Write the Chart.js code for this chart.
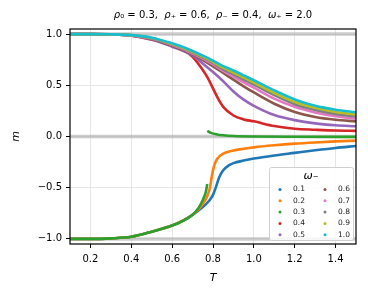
<!DOCTYPE html>
<html>
<head>
<meta charset="utf-8">
<script src="https://cdn.jsdelivr.net/npm/chart.js@4/dist/chart.umd.min.js"></script>
<style>
  html, body { margin: 0; padding: 0; background: #fff; }
</style>
</head>
<body>
<canvas id="phaseChart" width="368" height="297"></canvas>
<script>
// omega_minus values and matplotlib tab10 colours
const omegaLabels = ['0.1', '0.2', '0.3', '0.4', '0.5', '0.6', '0.7', '0.8', '0.9', '1.0'];
const colors = ['#1f77b4', '#ff7f0e', '#2ca02c', '#d62728', '#9467bd',
                '#8c564b', '#e377c2', '#7f7f7f', '#bcbd22', '#17becf'];

// upper branch (m -> +1 at low T)
const tUpper = [0.1, 0.2, 0.3, 0.4, 0.5, 0.6, 0.65, 0.7, 0.75, 0.8, 0.85, 0.9, 0.95, 1.0, 1.1, 1.2, 1.3, 1.4, 1.5];
const m05 = [1, 1, 0.997, 0.986, 0.948, 0.877, 0.84, 0.792, 0.712, 0.63, 0.54, 0.44, 0.36, 0.30, 0.21, 0.16, 0.128, 0.11, 0.10];
const m06 = [1, 1, 0.997, 0.987, 0.953, 0.886, 0.846, 0.80, 0.745, 0.685, 0.62, 0.555, 0.49, 0.43, 0.32, 0.24, 0.19, 0.163, 0.148];
const m07 = [1, 1, 0.998, 0.988, 0.957, 0.894, 0.856, 0.81, 0.76, 0.705, 0.64, 0.585, 0.53, 0.477, 0.37, 0.29, 0.235, 0.197, 0.173];
const m08 = [1, 1, 0.998, 0.989, 0.96, 0.90, 0.863, 0.82, 0.77, 0.718, 0.656, 0.607, 0.557, 0.508, 0.405, 0.315, 0.26, 0.22, 0.196];
const m09 = [1, 1, 0.998, 0.99, 0.963, 0.905, 0.869, 0.827, 0.78, 0.73, 0.672, 0.625, 0.576, 0.527, 0.425, 0.337, 0.28, 0.24, 0.215];
const m10 = [1, 1, 0.998, 0.99, 0.965, 0.91, 0.876, 0.835, 0.79, 0.74, 0.688, 0.645, 0.597, 0.549, 0.45, 0.362, 0.30, 0.262, 0.237];

const tRed = [0.1, 0.2, 0.3, 0.4, 0.5, 0.6, 0.65, 0.7, 0.75, 0.775, 0.8, 0.825, 0.85, 0.9, 0.95, 1.0, 1.1, 1.2, 1.3, 1.4, 1.5];
const m04 = [1, 1, 0.997, 0.985, 0.946, 0.896, 0.853, 0.778, 0.65, 0.57, 0.47, 0.37, 0.29, 0.205, 0.167, 0.148, 0.102, 0.076, 0.066, 0.058, 0.055];

// lower branch (m -> -1 at low T)
const tBlue = [0.1, 0.2, 0.3, 0.4, 0.5, 0.6, 0.65, 0.7, 0.75, 0.78, 0.8, 0.815, 0.83, 0.85, 0.875, 0.9, 0.95, 1.0, 1.1, 1.2, 1.3, 1.4, 1.5];
const m01 = [-1, -1, -0.995, -0.98, -0.93, -0.87, -0.825, -0.765, -0.69, -0.63, -0.57, -0.49, -0.40, -0.33, -0.285, -0.26, -0.235, -0.215, -0.185, -0.16, -0.135, -0.112, -0.093];
const tOrange = [0.1, 0.2, 0.3, 0.4, 0.5, 0.6, 0.65, 0.7, 0.73, 0.75, 0.77, 0.785, 0.795, 0.805, 0.82, 0.85, 0.9, 0.95, 1.0, 1.1, 1.2, 1.3, 1.4, 1.5];
const m02 = [-1, -1, -0.995, -0.98, -0.93, -0.87, -0.825, -0.765, -0.71, -0.66, -0.59, -0.50, -0.38, -0.29, -0.22, -0.168, -0.137, -0.12, -0.106, -0.086, -0.07, -0.058, -0.048, -0.04];
const tGreenLow = [0.1, 0.2, 0.3, 0.4, 0.5, 0.6, 0.65, 0.7, 0.73, 0.75, 0.765, 0.772];
const m03Low = [-1, -1, -0.995, -0.98, -0.93, -0.87, -0.828, -0.765, -0.695, -0.62, -0.54, -0.465];
const tGreenHigh = [0.772, 0.79, 0.82, 0.85, 0.9, 1.0, 1.2, 1.5];
const m03High = [0.055, 0.035, 0.02, 0.012, 0.005, 0.0, -0.003, -0.004];

const refLevels = [1, 0, -1];
const xTicks = [0.2, 0.4, 0.6, 0.8, 1.0, 1.2, 1.4];
const yTicks = [-1, -0.5, 0, 0.5, 1];

const toPts = (ts, ms) => ts.map((t, i) => ({ x: t, y: ms[i] }));

const series = [
    { idx: 0, pts: toPts(tBlue, m01) },
    { idx: 1, pts: toPts(tOrange, m02) },
    { idx: 2, pts: toPts(tGreenLow, m03Low) },
    { idx: 2, pts: toPts(tGreenHigh, m03High) },
    { idx: 3, pts: toPts(tRed, m04) },
    { idx: 4, pts: toPts(tUpper, m05) },
    { idx: 5, pts: toPts(tUpper, m06) },
    { idx: 6, pts: toPts(tUpper, m07) },
    { idx: 7, pts: toPts(tUpper, m08) },
    { idx: 8, pts: toPts(tUpper, m09) },
    { idx: 9, pts: toPts(tUpper, m10) },
];

const datasets = refLevels.map(v => ({
    data: [{ x: 0.1, y: v }, { x: 1.5, y: v }],
    borderColor: 'rgba(170,170,170,0.6)',
    borderWidth: 3.5,
    pointRadius: 0,
    order: 100
}));
series.forEach((s, k) => {
    datasets.push({
        label: omegaLabels[s.idx],
        data: s.pts,
        borderColor: colors[s.idx],
        borderWidth: 2.6,
        pointRadius: 0,
        cubicInterpolationMode: 'monotone',
        order: -k   // later omega drawn on top, like matplotlib
    });
});

const FONT = 'DejaVu Sans';
// title pieces: [text, italic]
const titleParts = [
    ['ρ', true], ['₀ = 0.3,  ', false],
    ['ρ', true], ['₊ = 0.6,  ', false],
    ['ρ', true], ['₋ = 0.4,  ', false],
    ['ω', true], ['₊ = 2.0', false]
];

// title, full frame and inside legend, like the matplotlib figure
const decorations = {
    id: 'decorations',
    afterDraw(chart) {
        const { ctx, chartArea: a } = chart;
        ctx.save();
        ctx.strokeStyle = '#000';
        ctx.lineWidth = 1.2;
        ctx.strokeRect(a.left, a.top, a.right - a.left, a.bottom - a.top);

        // title
        ctx.fillStyle = '#000';
        ctx.textBaseline = 'middle';
        ctx.textAlign = 'left';
        const fnt = it => `${it ? 'italic ' : ''}10px "${FONT}"`;
        let total = 0;
        titleParts.forEach(([t, it]) => { ctx.font = fnt(it); total += ctx.measureText(t).width; });
        let tx = (a.left + a.right) / 2 - total / 2;
        titleParts.forEach(([t, it]) => {
            ctx.font = fnt(it);
            ctx.fillText(t, tx, 15);
            tx += ctx.measureText(t).width;
        });

        // legend box
        const bx = 269, by = 167, bw = 84, bh = 73;
        ctx.fillStyle = 'rgba(255,255,255,0.85)';
        ctx.strokeStyle = '#d0d0d0';
        ctx.lineWidth = 1;
        ctx.beginPath();
        ctx.roundRect(bx + 0.5, by + 0.5, bw, bh, 2);
        ctx.fill();
        ctx.stroke();

        ctx.fillStyle = '#000';
        ctx.textAlign = 'center';
        ctx.font = `italic 11px "${FONT}"`;
        ctx.fillText('ω₋', bx + bw / 2, by + 9);

        ctx.font = `7.5px "${FONT}"`;
        ctx.textAlign = 'left';
        omegaLabels.forEach((lab, i) => {
            const col = Math.floor(i / 5), row = i % 5;
            const mx = bx + 11 + col * 45, my = by + 22.5 + row * 11.3;
            ctx.fillStyle = colors[i];
            ctx.beginPath();
            ctx.arc(mx, my, 1.5, 0, Math.PI * 2);
            ctx.fill();
            ctx.fillStyle = '#222';
            ctx.fillText(lab, mx + 13, my);
        });
        ctx.restore();
    }
};

const ctx = document.getElementById('phaseChart').getContext('2d');
const phaseChart = new Chart(ctx, {
    type: 'line',
    data: { datasets },
    options: {
        responsive: false,
        animation: false,
        events: [],
        layout: { padding: { top: 29, right: 12, left: 0, bottom: 0 } },
        plugins: {
            legend: { display: false },
            title: { display: false },
            tooltip: { enabled: false }
        },
        scales: {
            x: {
                type: 'linear',
                min: 0.1,
                max: 1.5,
                afterBuildTicks: s => { s.ticks = xTicks.map(v => ({ value: v })); },
                afterFit: s => { s.height = 53; },
                ticks: {
                    callback: v => v.toFixed(1),
                    color: '#000',
                    font: { family: FONT, size: 10 },
                    padding: 5,
                    maxRotation: 0
                },
                grid: { color: '#e6e6e6', tickColor: '#000', tickLength: 4 },
                border: { display: false },
                title: {
                    display: true,
                    text: 'T',
                    color: '#000',
                    font: { family: FONT, size: 11, style: 'italic' },
                    padding: { top: 0, bottom: 12 }
                }
            },
            y: {
                type: 'linear',
                min: -1.05,
                max: 1.05,
                afterBuildTicks: s => { s.ticks = yTicks.map(v => ({ value: v })); },
                afterFit: s => { s.width = 70; },
                ticks: {
                    callback: v => v.toFixed(1).replace('-', '\u2212'),
                    color: '#000',
                    font: { family: FONT, size: 10 },
                    padding: 4
                },
                grid: { color: '#e6e6e6', tickColor: '#000', tickLength: 4 },
                border: { display: false },
                title: {
                    display: true,
                    text: 'm',
                    color: '#000',
                    font: { family: FONT, size: 11, style: 'italic' },
                    padding: { top: 10 }
                }
            }
        }
    },
    plugins: [decorations]
});
</script>
</body>
</html>
